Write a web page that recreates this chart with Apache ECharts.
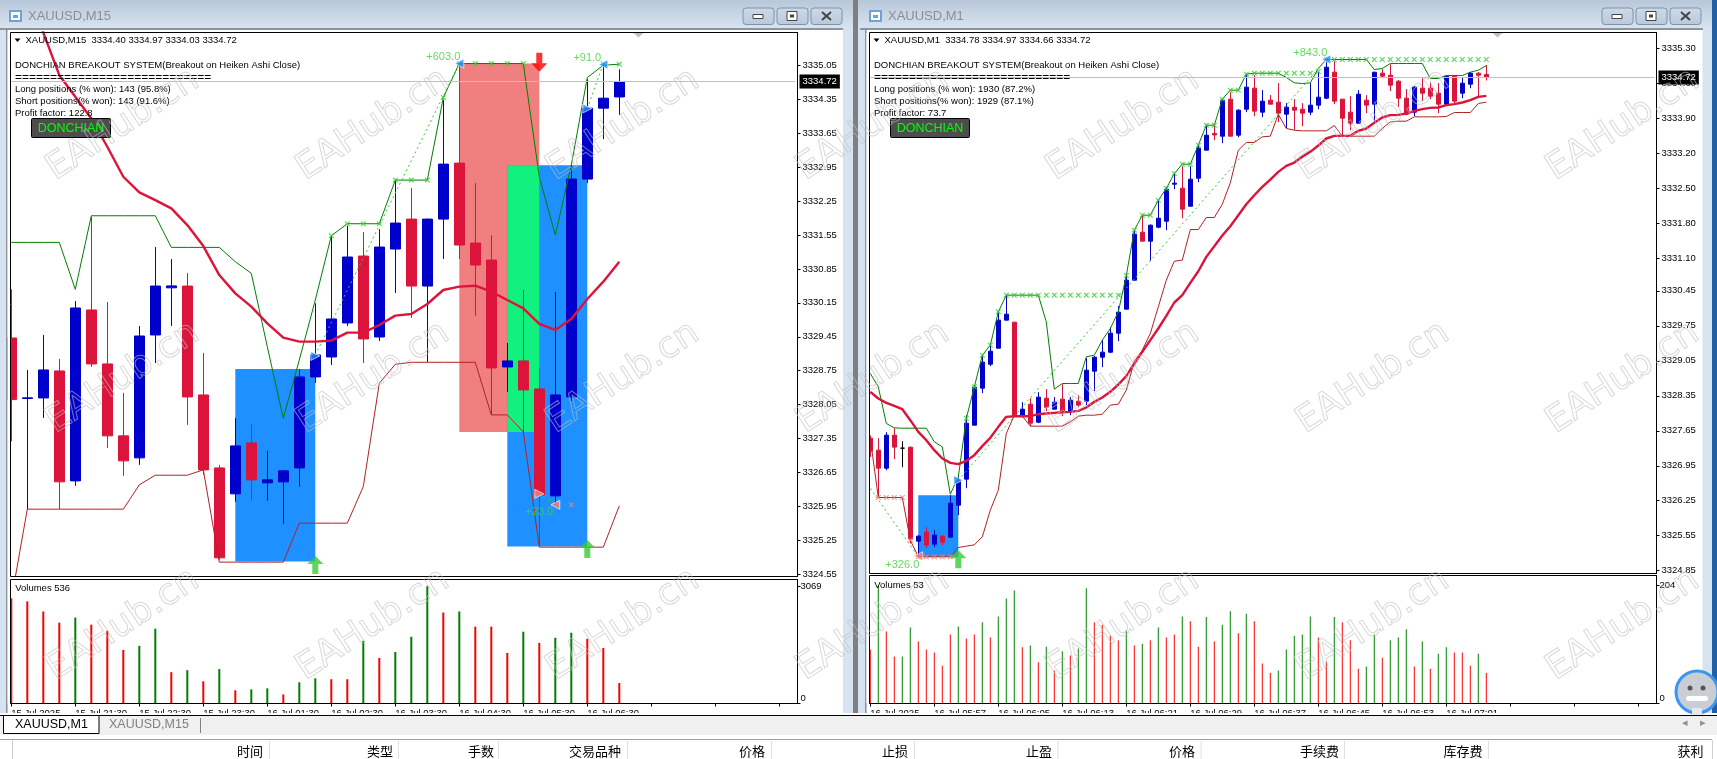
<!DOCTYPE html>
<html><head><meta charset="utf-8">
<style>html,body{margin:0;padding:0;background:#fff;overflow:hidden}#c{width:1717px;height:759px}</style>
<script src="https://cdn.jsdelivr.net/npm/echarts@6/dist/echarts.min.js"></script>
</head><body><div id="c"></div>
<script>
// ---------- M15 data: [open, close, low, high] ----------
const m15Ohlc=[[3329.425,3328.153,3327.29,3330.429],[3328.175,3328.19,3325.891,3328.765],[3328.187,3328.765,3327.775,3329.487],[3328.744,3326.455,3325.891,3328.992],[3326.475,3330.044,3326.372,3330.188],[3330.003,3328.889,3328.827,3331.928],[3328.889,3327.404,3327.156,3330.168],[3327.404,3326.888,3326.578,3328.291],[3326.95,3329.466,3326.805,3329.673],[3329.487,3330.497,3328.909,3331.302],[3330.46,3330.5,3329.673,3331.054],[3330.497,3328.208,3327.63,3330.765],[3328.249,3326.702,3326.6,3329.116],[3326.743,3324.887,3324.846,3326.805],[3326.207,3327.197,3326.042,3327.775],[3327.259,3326.496,3326.063,3327.651],[3326.434,3326.496,3326.063,3327.094],[3326.455,3326.682,3325.588,3326.702],[3326.743,3328.621,3326.352,3328.786],[3328.621,3329.074,3328.497,3330.14],[3329.033,3329.817,3328.868,3331.536],[3329.735,3331.096,3329.673,3331.742],[3331.116,3329.405,3328.909,3331.611],[3329.446,3331.302,3329.363,3331.673],[3331.261,3331.797,3330.353,3332.684],[3331.879,3330.497,3329.838,3332.519],[3330.497,3331.879,3328.93,3331.89],[3331.879,3333.014,3331.054,3334.334],[3333.035,3331.343,3331.054,3335.09],[3331.384,3330.931,3329.879,3332.622],[3331.034,3328.806,3327.837,3331.549],[3328.827,3328.951,3328.311,3329.322],[3328.951,3328.352,3327.459,3330.415],[3328.373,3326.187,3325.121,3328.806],[3326.166,3328.249,3325.98,3330.374],[3328.208,3332.705,3328.126,3332.993],[3332.705,3334.169,3332.622,3334.767],[3334.169,3334.375,3333.53,3335.09],[3334.40,3334.72,3334.03,3334.97]];
const m15Ma=[3337.428,3336.603,3335.73,3334.85,3334.403,3333.956,3333.372,3332.753,3332.43,3332.271,3332.1,3331.756,3331.322,3330.724,3330.346,3330.071,3329.728,3329.432,3329.35,3329.35,3329.37,3329.535,3329.535,3329.693,3329.886,3329.92,3330.126,3330.415,3330.484,3330.504,3330.38,3330.209,3330.037,3329.714,3329.59,3329.817,3330.229,3330.587,3331.0];
const m15Upper=[3331.398,3331.398,3331.398,3331.398,3330.429,3331.948,3331.948,3331.948,3331.948,3331.948,3331.295,3331.295,3331.295,3331.295,3330.999,3330.759,3329.246,3327.768,3328.971,3330.209,3331.536,3331.783,3331.783,3331.783,3332.684,3332.684,3332.684,3334.389,3335.09,3335.09,3335.09,3335.09,3335.09,3332.753,3331.55,3332.993,3334.802,3335.056,3335.077];
const m15Lower=[3324.02,3325.891,3325.891,3325.891,3325.891,3325.891,3325.891,3325.891,3326.393,3326.592,3326.592,3326.592,3326.702,3324.798,3324.798,3324.798,3324.798,3324.798,3325.602,3325.602,3325.602,3325.602,3326.358,3328.49,3328.882,3328.923,3328.923,3328.923,3328.923,3328.923,3327.837,3327.837,3327.486,3325.107,3325.107,3325.107,3325.107,3325.107,3325.96];
const m15Volume=[2751,2672,2407,2117,2249,2064,1905,1402,1508,1958,820,873,582,900,344,370,397,238,556,661,635,635,1640,1191,1349,1746,3069,2381,2408,2011,2011,1323,1879,1587,1720,1852,1693,1455,536];
const m15VolDir="rrrrgrrrggrgrgrggrggrrgrgggrgrrrgrggrrr";
const m15Ticks=["15 Jul 2025","15 Jul 21:30","15 Jul 22:30","15 Jul 23:30","16 Jul 01:30","16 Jul 02:30","16 Jul 03:30","16 Jul 04:30","16 Jul 05:30","16 Jul 06:30"];
const m15Prices=[3335.05,3334.35,3333.65,3332.95,3332.25,3331.55,3330.85,3330.15,3329.45,3328.75,3328.05,3327.35,3326.65,3325.95,3325.25,3324.55];
const m15BlueZones=[[14,19,3328.786,3324.81],[31,36,3332.993,3325.12]];
const m15RedZones=[[28,33,3335.09,3327.486]];
const m15GreenZones=[[31,33,3332.993,3327.486]];
const m15LongX=[[20,3331.536],[21,3331.783],[22,3331.783],[23,3331.783],[24,3332.684],[25,3332.684],[26,3332.684],[27,3334.389],[28,3335.09],[29,3335.09],[30,3335.09],[31,3335.09],[32,3335.09],[37,3335.09],[38,3335.077]];
const m15ShortX=[[35,3325.98]];
const m15Trades=[[[19,3329.074],[28,3335.09]],[[36,3334.162],[37,3335.09]],[[33,3326.207],[34,3325.98]]];
const m15EntryBlue=[[19,3329.054],[36,3334.162]];
const m15ExitBlue=[[28,3335.09],[37,3335.07]];
const m15EntrySalmon=[[33,3326.207]];
const m15ExitSalmon=[[34,3325.98]];
const m15Up=[[19,3324.74],[36,3325.07]];
const m15Down=[[33,3335.118]];
const m15Profit=[[27,3335.227,"+603.0"],[36,3335.215,"+91.0"],[33,3325.836,"+23.0"]];

// ---------- M1 data ----------
const m1Ohlc=[[3327.502,3327.242,3327.128,3327.555],[3327.262,3326.902,3326.328,3327.502],[3326.902,3327.562,3326.862,3327.622],[3327.562,3327.322,3327.082,3327.702],[3327.302,3327.302,3326.922,3327.442],[3327.322,3325.481,3325.394,3327.33],[3325.441,3325.541,3325.127,3325.561],[3325.621,3325.361,3325.301,3325.721],[3325.381,3325.561,3325.321,3325.661],[3325.541,3325.421,3325.361,3325.561],[3325.521,3326.201,3325.521,3326.361],[3326.161,3326.662,3325.961,3326.742],[3326.682,3327.802,3326.501,3327.962],[3327.762,3328.523,3327.762,3328.563],[3328.503,3329.023,3328.403,3329.143],[3328.983,3329.243,3328.943,3329.363],[3329.303,3329.864,3329.303,3330.044],[3329.864,3329.984,3329.864,3330.364],[3329.824,3327.962,3327.942,3329.824],[3327.962,3328.082,3327.942,3328.223],[3328.183,3327.802,3327.742,3328.303],[3327.822,3328.323,3327.802,3328.423],[3328.303,3328.122,3328.042,3328.483],[3328.082,3328.223,3328.082,3328.323],[3328.283,3328.022,3327.942,3328.583],[3328.042,3328.263,3327.962,3328.323],[3328.243,3328.163,3328.122,3328.363],[3328.243,3328.863,3328.163,3329.103],[3328.843,3329.123,3328.443,3329.143],[3329.123,3329.223,3328.923,3329.463],[3329.223,3329.603,3329.203,3329.724],[3329.603,3330.024,3329.443,3330.144],[3330.084,3330.663,3330.084,3330.757],[3330.663,3331.584,3330.663,3331.664],[3331.624,3331.444,3331.444,3331.964],[3331.444,3331.764,3331.044,3331.78],[3331.724,3331.904,3331.704,3332.264],[3331.844,3332.485,3331.664,3332.531],[3332.585,3332.605,3332.485,3332.805],[3332.505,3332.084,3331.904,3332.945],[3332.144,3332.685,3332.144,3332.945],[3332.705,3333.305,3332.625,3333.385],[3333.265,3333.565,3333.265,3333.765],[3333.6,3333.57,3333.465,3333.765],[3333.545,3334.266,3333.405,3334.286],[3334.286,3333.545,3333.545,3334.426],[3333.565,3334.066,3333.525,3334.086],[3334.086,3334.526,3334.026,3334.786],[3334.506,3334.046,3333.945,3334.766],[3334.026,3334.246,3333.925,3334.466],[3334.266,3334.186,3334.186,3334.366],[3334.226,3334.006,3333.825,3334.606],[3333.986,3334.126,3333.705,3334.206],[3334.126,3334.066,3333.665,3334.286],[3334.086,3334.006,3333.745,3334.206],[3334.026,3334.166,3333.965,3334.606],[3334.166,3334.326,3334.086,3334.826],[3334.306,3334.926,3334.286,3335.046],[3334.826,3334.246,3334.186,3335.046],[3334.286,3333.905,3333.565,3334.286],[3334.026,3333.805,3333.665,3334.346],[3333.805,3334.386,3333.805,3334.466],[3334.266,3334.166,3334.006,3334.366],[3334.186,3334.826,3333.805,3334.826],[3334.806,3334.746,3334.72,3334.886],[3334.766,3334.566,3334.446,3334.986],[3334.646,3334.306,3334.126,3334.666],[3334.306,3333.986,3333.966,3334.486],[3334.026,3334.526,3333.945,3334.546],[3334.506,3334.406,3334.246,3334.706],[3334.506,3334.346,3334.286,3334.626],[3334.406,3334.186,3334.006,3334.606],[3334.186,3334.746,3334.186,3334.766],[3334.746,3334.246,3334.186,3334.766],[3334.406,3334.606,3334.306,3334.726],[3334.586,3334.806,3334.506,3334.826],[3334.806,3334.766,3334.346,3334.826],[3334.78,3334.72,3334.66,3334.97]];
const m1Ma=[3328.429,3328.296,3328.209,3328.149,3328.082,3327.862,3327.629,3327.462,3327.262,3327.095,3327.008,3326.982,3327.048,3327.162,3327.342,3327.509,3327.729,3327.929,3327.942,3327.942,3327.942,3327.982,3327.996,3328.009,3328.022,3328.029,3328.049,3328.116,3328.229,3328.316,3328.429,3328.576,3328.743,3328.996,3329.23,3329.463,3329.697,3329.95,3330.217,3330.363,3330.61,3330.843,3331.13,3331.344,3331.557,3331.744,3331.964,3332.184,3332.364,3332.531,3332.678,3332.831,3332.951,3333.018,3333.132,3333.232,3333.358,3333.499,3333.552,3333.552,3333.552,3333.652,3333.699,3333.812,3333.919,3333.966,3333.972,3333.999,3334.052,3334.086,3334.112,3334.119,3334.166,3334.186,3334.219,3334.266,3334.332,3334.352];
const m1Upper=[3328.796,3328.529,3327.796,3327.709,3327.702,3327.702,3327.702,3327.702,3327.429,3327.329,3326.381,3326.728,3327.896,3328.529,3329.163,3329.363,3330.03,3330.364,3330.364,3330.364,3330.364,3330.364,3329.83,3328.483,3328.596,3328.596,3328.596,3329.13,3329.163,3329.463,3329.697,3330.03,3330.757,3331.664,3331.964,3331.964,3332.264,3332.498,3332.798,3332.985,3332.985,3333.365,3333.765,3333.765,3334.286,3334.466,3334.466,3334.786,3334.806,3334.806,3334.806,3334.806,3334.72,3334.613,3334.599,3334.613,3334.899,3335.08,3335.08,3335.08,3335.08,3335.08,3335.08,3334.879,3334.899,3335.0,3335.0,3335.0,3335.0,3335.0,3334.699,3334.699,3334.759,3334.759,3334.759,3334.826,3334.866,3334.959];
const m1Lower=[3327.495,3326.315,3326.315,3326.315,3326.315,3325.461,3325.127,3325.127,3325.127,3325.127,3325.127,3325.314,3325.341,3325.367,3325.527,3326.061,3326.461,3327.595,3327.962,3327.942,3327.742,3327.742,3327.742,3327.742,3327.742,3327.829,3327.942,3327.962,3327.962,3327.982,3328.163,3328.182,3328.463,3329.03,3329.263,3329.597,3330.13,3330.663,3331.044,3331.064,3331.677,3331.677,3331.918,3331.918,3332.184,3332.611,3333.265,3333.418,3333.418,3333.532,3333.545,3333.985,3333.699,3333.665,3333.652,3333.652,3333.652,3333.652,3333.759,3333.545,3333.545,3333.545,3333.545,3333.545,3333.699,3333.832,3333.845,3333.845,3333.932,3333.932,3333.932,3333.932,3333.939,3334.019,3334.019,3334.019,3334.199,3334.226];
const m1Volume=[93,204,124,81,81,131,107,93,88,65,119,133,112,119,140,114,150,181,195,97,100,71,98,57,90,83,95,199,140,136,117,109,126,100,103,109,131,114,119,150,142,98,149,107,136,159,121,155,142,69,53,57,93,117,119,150,114,72,149,140,109,60,64,119,79,109,114,128,64,107,60,86,97,88,88,65,86,53];
const m1VolDir="rgrrggrrrr"+"rgrrgrgggr"+"grgrgrggrr"+"rrgrgrgrrg"+"rrgrggrgrr"+"rgggggrrgr"+"rrggrgggrg"+"rggrrrgr";
const m1Ticks=["16 Jul 2025","16 Jul 05:57","16 Jul 06:05","16 Jul 06:13","16 Jul 06:21","16 Jul 06:29","16 Jul 06:37","16 Jul 06:45","16 Jul 06:53","16 Jul 07:01"];
const m1Prices=[3335.30,3334.60,3333.90,3333.20,3332.50,3331.80,3331.10,3330.45,3329.75,3329.05,3328.35,3327.65,3326.95,3326.25,3325.55,3324.85];
const m1BlueZones=[[6,11,3326.361,3325.127]];
const m1LongXBars=[12,13,14,15,16,17,18,19,20,21,22,23,24,25,26,27,28,29,30,31,32,33,34,35,36,37,38,39,40,41,42,43,44,45,46,47,48,49,50,51,52,53,54,55,56,57,58,59,60,61,62,63,64,65,66,67,68,69,70,71,72,73,74,75,76,77];
const m1LongXPrices=[3327.896,3328.529,3329.163,3329.363,3330.03,3330.364,3330.364,3330.364,3330.364,3330.364,3330.364,3330.364,3330.364,3330.364,3330.364,3330.364,3330.364,3330.364,3330.364,3330.364,3330.757,3331.664,3331.964,3331.964,3332.264,3332.498,3332.798,3332.985,3332.985,3333.365,3333.765,3333.765,3334.286,3334.466,3334.466,3334.786,3334.806,3334.806,3334.806,3334.806,3334.806,3334.806,3334.806,3334.806,3334.84,3335.08,3335.08,3335.08,3335.08,3335.08,3335.08,3335.08,3335.08,3335.08,3335.08,3335.08,3335.08,3335.08,3335.08,3335.08,3335.08,3335.08,3335.08,3335.08,3335.08,3335.08];
const m1ShortX=[[1,3326.315],[2,3326.315],[3,3326.315],[4,3326.315],[5,3325.461],[6,3325.127],[7,3325.127],[8,3325.127],[9,3325.127],[10,3325.127]];
const m1Trades=[[[0,3326.495],[6,3325.127]],[[11,3326.662],[57,3335.08]]];
const m1EntryBlue=[[11,3326.662]];
const m1ExitBlue=[[57,3335.08]];
const m1ExitSalmon=[[6,3325.14]];
const m1Up=[[11,3325.08]];
const m1Profit=[[4,3324.974,"+326.0"],[55,3335.22,"+843.0"]];

// ---------- texts ----------
const panelText={
 m15:{title:"XAUUSD,M15",head:"XAUUSD,M15  3334.40 3334.97 3334.03 3334.72",long:"Long positions (% won): 143 (95.8%)",short:"Short positions(% won): 143 (91.6%)",pf:"Profit factor: 122.8",vol:"Volumes 536"},
 m1:{title:"XAUUSD,M1",head:"XAUUSD,M1  3334.78 3334.97 3334.66 3334.72",long:"Long positions (% won): 1930 (87.2%)",short:"Short positions(% won): 1929 (87.1%)",pf:"Profit factor: 73.7",vol:"Volumes 53"}};
const headerCols=["时间","类型","手数","交易品种","价格","止损","止盈","价格","手续费","库存费","获利"];
const lastPrice=3334.72;

const FONT='"Liberation Sans","Noto Sans",sans-serif';
const FS=9.5, BLUE='#0000CD', CRIM='#DC143C';
const ARROW_UP='path://M8 0 L16 8 L11 8 L11 18 L5 18 L5 8 L0 8 Z';
const ARROW_DN='path://M5 0 L11 0 L11 10 L16 10 L8 18 L0 10 L5 10 Z';
const XMARK='path://M0 1.5 L1.5 0 L5 3.5 L8.5 0 L10 1.5 L6.5 5 L10 8.5 L8.5 10 L5 6.5 L1.5 10 L0 8.5 L3.5 5 Z';

const panes=[
 {key:'m15',x0:11.3,top:32.5,bot:576.5,vt:579.5,vb:703.5,n:50,step:16,frameL:10.5,frameR:797.5,barW:11,volW:2,min:3324.501,max:3335.731,vmax:3245,vtop:3069,
  ohlc:m15Ohlc,ma:m15Ma,up:m15Upper,lo:m15Lower,vol:m15Volume,dir:m15VolDir,ticks:m15Ticks,tickEvery:4,prices:m15Prices,blue:m15BlueZones,red:m15RedZones,green:m15GreenZones,
  longX:m15LongX,shortX:m15ShortX,trades:m15Trades,entB:m15EntryBlue,exB:m15ExitBlue,entS:m15EntrySalmon,exS:m15ExitSalmon,upA:m15Up,dnA:m15Down,profit:m15Profit},
 {key:'m1',x0:870.3,top:32.5,bot:573.5,vt:575.5,vb:703.5,n:99,step:8,frameL:869.5,frameR:1656.5,barW:5,volW:1,min:3324.794,max:3335.62,vmax:220.8,vtop:204,
  ohlc:m1Ohlc,ma:m1Ma,up:m1Upper,lo:m1Lower,vol:m1Volume,dir:m1VolDir,ticks:m1Ticks,tickEvery:8,prices:m1Prices,blue:m1BlueZones,red:[],green:[],
  longX:m1LongXBars.map((b,i)=>[b,m1LongXPrices[i]]),shortX:m1ShortX,trades:m1Trades,entB:m1EntryBlue,exB:m1ExitBlue,entS:[],exS:m1ExitSalmon,upA:m1Up,dnA:[],profit:m1Profit}
];

const grids=[],xAxes=[],yAxes=[],series=[];
function zoneSeries(data,color,ax,z){
  return {type:'custom',xAxisIndex:ax,yAxisIndex:ax,z,clip:true,silent:true,data,encode:{x:[0,1],y:[2,3]},
    renderItem(p,api){const a=api.coord([api.value(0),api.value(2)]),b=api.coord([api.value(1),api.value(3)]);
      return {type:'rect',shape:{x:a[0],y:a[1],width:b[0]-a[0],height:b[1]-a[1]},style:{fill:color}};}};
}
function markSeries(data,sym,size,color,ax,z,rot){
  return {type:'scatter',xAxisIndex:ax,yAxisIndex:ax,z,data,symbol:sym,symbolSize:size,symbolRotate:rot||0,silent:true,clip:false,
    itemStyle:{color,borderColor:sym==='triangle'?'#fff':undefined,borderWidth:sym==='triangle'?0.8:0}};
}
panes.forEach((p,k)=>{
  const m=k*2,v=k*2+1, w=(p.n-1)*p.step, cats=Array.from({length:p.n},(_,i)=>String(i));
  grids.push({left:p.x0,width:w,top:p.top,height:p.bot-p.top});
  grids.push({left:p.x0,width:w,top:p.vt,height:p.vb-p.vt});
  const off=p.frameR-(p.x0+w);
  xAxes.push({type:'category',gridIndex:m,data:cats,boundaryGap:false,show:false});
  xAxes.push({type:'category',gridIndex:v,data:cats,boundaryGap:false,axisLine:{show:false},
    axisTick:{show:true,interval:p.tickEvery-1,length:3,lineStyle:{color:'#000'}},
    axisLabel:{interval:p.tickEvery-1,align:'left',margin:5,color:'#000',fontFamily:FONT,fontSize:FS,
      formatter:(val,i)=>p.ticks[i/p.tickEvery]||''}});
  yAxes.push({type:'value',gridIndex:m,position:'right',offset:off,min:p.min,max:p.max,splitLine:{show:false},
    axisLine:{show:true,lineStyle:{color:'#000'}},axisTick:{show:true,length:3,customValues:p.prices,lineStyle:{color:'#000'}},
    axisLabel:{customValues:p.prices,margin:5,color:'#000',fontFamily:FONT,fontSize:FS,formatter:x=>Number(x).toFixed(2)}});
  yAxes.push({type:'value',gridIndex:v,position:'right',offset:off,min:0,max:p.vmax,splitLine:{show:false},
    axisLine:{show:true,lineStyle:{color:'#000'}},axisTick:{show:true,length:3,customValues:[0,p.vtop],lineStyle:{color:'#000'}},
    axisLabel:{customValues:[0,p.vtop],margin:3,color:'#000',fontFamily:FONT,fontSize:FS,verticalAlignMinLabel:'bottom',formatter:x=>String(x)}});
  if(p.red.length) series.push(zoneSeries(p.red,'#F08080',m,1));
  series.push(zoneSeries(p.blue,'#1E90FF',m,1));
  if(p.green.length) series.push(zoneSeries(p.green,'#12F07E',m,1));
  series.push({type:'candlestick',name:p.key,xAxisIndex:m,yAxisIndex:m,z:3,barWidth:p.barW,clip:true,silent:true,
    data:p.ohlc.map(c=>c[0]===c[1]?{value:c,itemStyle:{color:'#000',color0:'#000',borderColor:'#000',borderColor0:'#000',borderColorDoji:'#000'}}:c),
    itemStyle:{color:BLUE,color0:CRIM,borderColor:BLUE,borderColor0:CRIM,borderWidth:1},
    markLine:{silent:true,symbol:'none',animation:false,z:20,lineStyle:{color:'#C0C0C0',width:1,type:'solid'},
      label:{show:true,position:'end',distance:off+2,formatter:lastPrice.toFixed(2),color:'#fff',backgroundColor:'#000',padding:[2,3,2,3],fontFamily:FONT,fontSize:FS},
      data:[{yAxis:lastPrice}]}});
  const ln=(d,c,wd,z)=>({type:'line',xAxisIndex:m,yAxisIndex:m,data:d,symbol:'none',z,silent:true,clip:true,lineStyle:{color:c,width:wd}});
  series.push(ln(p.up,'#008000',1,4));
  series.push(ln(p.lo,'#B22222',1,4));
  series.push(ln(p.ma,CRIM,2.4,5));
  p.trades.forEach(t=>series.push({type:'line',xAxisIndex:m,yAxisIndex:m,data:t,symbol:'none',z:4,silent:true,lineStyle:{color:'#32CD32',width:1,type:[2,3]}}));
  series.push(markSeries(p.longX,XMARK,5.5,'#2FD12F',m,6));
  series.push(markSeries(p.shortX,XMARK,5.5,'#FA8072',m,6));
  series.push(markSeries(p.entB,'triangle',9,'#1E90FF',m,7,-90));
  series.push(markSeries(p.exB,'triangle',9,'#1E90FF',m,7,90));
  if(p.entS.length) series.push(markSeries(p.entS,'triangle',9,'#FA8072',m,7,-90));
  if(p.exS.length) series.push(markSeries(p.exS,'triangle',9,'#FA8072',m,7,90));
  series.push(markSeries(p.upA,ARROW_UP,[16,18],'#33CC33',m,7));
  if(p.dnA.length) series.push(markSeries(p.dnA,ARROW_DN,[16,19],'#FF0000',m,7));
  series.push({type:'scatter',xAxisIndex:m,yAxisIndex:m,z:8,silent:true,clip:false,symbolSize:1,itemStyle:{color:'transparent'},
    data:p.profit.map(d=>({value:[d[0],d[1]],name:d[2]})),
    label:{show:true,position:'inside',formatter:'{b}',color:'#3FD23F',fontFamily:FONT,fontSize:11}});
  series.push({type:'bar',xAxisIndex:v,yAxisIndex:v,barWidth:p.volW,silent:true,clip:true,
    data:p.vol.map((x,i)=>({value:x,itemStyle:{color:p.dir[i]==='g'?'#008000':'#FF0000'}}))});
});

// ---------- chrome drawn as graphic elements ----------
const g=[];
const R=(x,y,w,h,fill,z,extra)=>g.push(Object.assign({type:'rect',shape:{x,y,width:w,height:h},style:{fill},z:z||0,silent:true},extra||{}));
const T=(x,y,text,o)=>{o=o||{};g.push({type:'text',z:o.z||60,silent:true,style:{x,y,text,fill:o.fill||'#000',font:(o.weight?o.weight+' ':'')+(o.size||FS)+'px '+(o.fam||FONT),align:o.align||'left',verticalAlign:'middle'}});};
const LINE=(pts,stroke,wd,z)=>g.push({type:'polyline',shape:{points:pts},style:{stroke,lineWidth:wd||1,fill:null},z:z||60,silent:true});
const titleGrad={type:'linear',x:0,y:0,x2:0,y2:1,colorStops:[{offset:0,color:'#B8C7D9'},{offset:1,color:'#D8E3EF'}]};
const btnGrad={type:'linear',x:0,y:0,x2:0,y2:1,colorStops:[{offset:0,color:'#CEDAE8'},{offset:1,color:'#B9C8DB'}]};
R(0,0,1717,759,'#D6E4F2',-10);
R(7.5,30,835.5,684,'#fff',-9);
R(866.5,30,836,684,'#fff',-9);
R(0,0,853,28,titleGrad,-8); R(858,0,854,28,titleGrad,-8);
R(0,28,843,2,'#8E949B',-8); R(860,28,843,2,'#8E949B',-8);
R(6,28,1.5,686,'#8E949B',-8); R(865,28,1.5,686,'#8E949B',-8);
R(853,0,5,714,'#7F7F7F',-7); R(1712,0,5,714,'#1F5FA6',-7);
// left edge masks: the candle cut off by each plot's left border
R(0,33,6,670,'#D6E4F2',9); R(6,33,1.5,670,'#8E949B',9); R(7.5,33,3,670,'#fff',9);
R(866.5,33,3,670,'#fff',9);
function titleBar(x,name,bx){
  R(x+9,10,13,12,'#6FA3D6',1); R(x+11,12,9,8,'#fff',1); R(x+13,15,5,3,'#6FA3D6',1);
  T(x+28,16.5,name,{size:13,fill:'#8A8F96',z:2});
  [0,34,68].forEach(d=>{g.push({type:'rect',z:1,silent:true,shape:{x:bx+d,y:8,width:31,height:16.5,r:3},style:{fill:btnGrad,stroke:'#7F93AB',lineWidth:1}});});
  R(bx+10,14.5,10,4,'#fff',2,{style:{fill:'#fff',stroke:'#444',lineWidth:1}});
  R(bx+44,11.5,10,9,'#fff',2,{style:{fill:'#fff',stroke:'#444',lineWidth:1}});
  R(bx+47,14.5,4,3,'#444',3);
  LINE([[bx+79,12],[bx+88,20]],'#444',2,3); LINE([[bx+88,12],[bx+79,20]],'#444',2,3);
}
titleBar(0,panelText.m15.title,743); titleBar(860,panelText.m1.title,1602);

panes.forEach(p=>{
  const t=panelText[p.key], L=p.frameL, dx=L+4.5;
  g.push({type:'rect',z:50,silent:true,shape:{x:L,y:p.top,width:p.frameR-L,height:p.bot-p.top},style:{fill:null,stroke:'#000',lineWidth:1}});
  g.push({type:'rect',z:50,silent:true,shape:{x:L,y:p.vt,width:p.frameR-L,height:p.vb-p.vt},style:{fill:null,stroke:'#000',lineWidth:1}});
  g.push({type:'polygon',z:60,silent:true,shape:{points:[[L+4,38.5],[L+10,38.5],[L+7,42]]},style:{fill:'#000'}});
  T(L+15,40.5,t.head);
  T(dx,65.5,"DONCHIAN BREAKOUT SYSTEM(Breakout on Heiken Ashi Close)");
  T(dx,78,"============================",{size:12});
  T(dx,89.5,t.long); T(dx,101.5,t.short); T(dx,113.5,t.pf);
  g.push({type:'rect',z:60,silent:true,shape:{x:L+21,y:118.5,width:79,height:19,r:1},style:{fill:'#4D4D4D',stroke:'#000',lineWidth:1}});
  T(L+60.5,128.5,"DONCHIAN",{align:'center',fill:'#00FF00',size:12.5,z:61});
  T(dx+0.2,p.key==='m15'?588.7:585,t.vol);
  const tx=L+628;
  g.push({type:'polygon',z:60,silent:true,shape:{points:[[tx-5,33],[tx+5,33],[tx,37.5]]},style:{fill:'#C0C0C0'}});
});

// bottom tab bar and table header, covers lower half of the time labels
R(0,713,1717,46,'#fff',70);
R(0,715,1717,1,'#000',71);
R(0,716,1717,19,'#F0F0F0',71);
R(0,739,1712,1,'#A0A0A0',71);
g.push({type:'rect',z:72,silent:true,shape:{x:3.5,y:715.5,width:95.5,height:18},style:{fill:'#fff',stroke:'#000',lineWidth:1}});
T(15,725,panelText.m1.title,{size:12.5,z:73});
T(109,725,panelText.m15.title,{size:12.5,z:73,fill:'#808080'});
R(200,718,1,15,'#808080',73);
const colRight=[263,393,494,621,765,908,1052,1195,1339,1482.6,1703.6];
const colDiv=[269,398,498,627,771,914,1057.5,1200.6,1344,1488];
headerCols.forEach((c,i)=>T(colRight[i],751.5,c,{size:13,align:'right',z:73,fam:'"Noto Sans CJK SC"'}));
colDiv.forEach(x=>R(x,741,1,18,'#E0E0E0',73));
R(12,740,1,19,'#D0D0D0',73); R(1712,740,1,19,'#D0D0D0',73);
T(1684.5,723,'◂',{size:11,z:73,fill:'#909090',align:'center'});
T(1703,723,'▸',{size:11,z:73,fill:'#909090',align:'center'});

// watermark
const wmCols=[123,373,623,873,1123,1373,1623], wmRows=[125,378,625];
wmRows.forEach(y=>wmCols.forEach(x=>g.push({type:'text',z:65,silent:true,x,y,rotation:0.58,
  style:{x:0,y:0,text:'EAHub.cn',font:'36px "DejaVu Sans"',align:'center',verticalAlign:'middle',fill:'rgba(255,255,255,0)',stroke:'rgba(190,190,190,0.6)',lineWidth:1}})));

// avatar
g.push({type:'circle',z:80,silent:true,shape:{cx:1697,cy:692,r:21},style:{fill:'#C9CED6',stroke:'#3A96F0',lineWidth:3}});
g.push({type:'circle',z:81,silent:true,shape:{cx:1690,cy:688,r:2.5},style:{fill:'#555'}});
g.push({type:'circle',z:81,silent:true,shape:{cx:1703,cy:688,r:2.5},style:{fill:'#555'}});
g.push({type:'rect',z:81,silent:true,shape:{x:1686,y:696,width:22,height:5,r:2.5},style:{fill:'#fff'}});
g.push({type:'rect',z:81,silent:true,shape:{x:1692,y:708,width:10,height:7,r:1},style:{fill:'#E8E8E8'}});

const chart=echarts.init(document.getElementById('c'),null,{width:1717,height:759,renderer:'canvas'});
chart.setOption({animation:false,backgroundColor:'transparent',grid:grids,xAxis:xAxes,yAxis:yAxes,series,graphic:{elements:g},tooltip:{show:false}});
</script></body></html>
